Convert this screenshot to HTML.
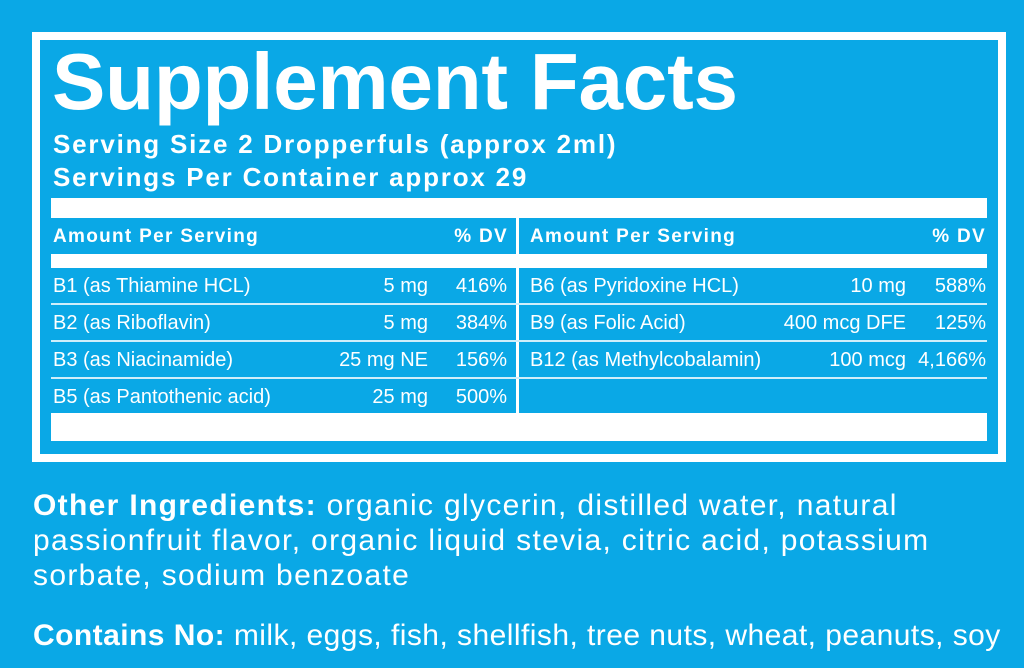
<!DOCTYPE html>
<html><head><meta charset="utf-8"><style>
*{margin:0;padding:0;box-sizing:border-box}
body{width:1024px;height:668px;background:#0aa8e6;position:relative;overflow:hidden;font-family:"Liberation Sans",sans-serif;color:#fff}
.box{position:absolute;left:32px;top:32px;width:974px;height:430px;border:8px solid #fff}
.a{position:absolute;white-space:nowrap}
.title{left:52px;top:36px;font-size:80px;font-weight:bold;letter-spacing:-0.2px}
.sub{left:53px;font-size:26px;font-weight:bold;letter-spacing:1.8px}
.bar{position:absolute;left:51px;width:936px;background:#fff}
.hdr{font-weight:bold;font-size:19px;top:226px;letter-spacing:1.3px}
.r{font-family:"Liberation Sans Narrow","Liberation Sans",sans-serif;font-size:20px;top:0}
.rt{text-align:right}
.line{position:absolute;height:2px;background:#cfeefa}
.bot{left:33px;font-size:30px;letter-spacing:1.33px}
</style></head><body>
<div class="box"></div>
<div class="a title">Supplement Facts</div>
<div class="a sub" style="top:129px">Serving Size 2 Dropperfuls (approx 2ml)</div>
<div class="a sub" style="top:162px">Servings Per Container approx 29</div>
<div class="bar" style="top:198px;height:20px"></div>
<div class="bar" style="top:254px;height:14px"></div>
<div class="bar" style="top:413px;height:28px"></div>
<div style="position:absolute;left:516px;top:218px;width:3px;height:195px;background:#fff"></div>
<div class="line" style="left:51px;width:936px;top:303px"></div>
<div class="line" style="left:51px;width:936px;top:340px"></div>
<div class="line" style="left:51px;width:936px;top:377px"></div>
<div class="a hdr" style="left:53px">Amount Per Serving</div>
<div class="a hdr" style="left:440px;width:68px;text-align:right">% DV</div>
<div class="a hdr" style="left:530px">Amount Per Serving</div>
<div class="a hdr" style="left:910px;width:76px;text-align:right">% DV</div>

<div class="a r" style="left:53px;top:275px">B1 (as Thiamine HCL)</div>
<div class="a r rt" style="left:300px;width:128px;top:275px">5 mg</div>
<div class="a r rt" style="left:440px;width:67px;top:275px">416%</div>
<div class="a r" style="left:53px;top:312px">B2 (as Riboflavin)</div>
<div class="a r rt" style="left:300px;width:128px;top:312px">5 mg</div>
<div class="a r rt" style="left:440px;width:67px;top:312px">384%</div>
<div class="a r" style="left:53px;top:349px">B3 (as Niacinamide)</div>
<div class="a r rt" style="left:300px;width:128px;top:349px">25 mg NE</div>
<div class="a r rt" style="left:440px;width:67px;top:349px">156%</div>
<div class="a r" style="left:53px;top:386px">B5 (as Pantothenic acid)</div>
<div class="a r rt" style="left:300px;width:128px;top:386px">25 mg</div>
<div class="a r rt" style="left:440px;width:67px;top:386px">500%</div>

<div class="a r" style="left:530px;top:275px">B6 (as Pyridoxine HCL)</div>
<div class="a r rt" style="left:740px;width:166px;top:275px">10 mg</div>
<div class="a r rt" style="left:906px;width:80px;top:275px">588%</div>
<div class="a r" style="left:530px;top:312px">B9 (as Folic Acid)</div>
<div class="a r rt" style="left:740px;width:166px;top:312px">400 mcg DFE</div>
<div class="a r rt" style="left:906px;width:80px;top:312px">125%</div>
<div class="a r" style="left:530px;top:349px">B12 (as Methylcobalamin)</div>
<div class="a r rt" style="left:740px;width:166px;top:349px">100 mcg</div>
<div class="a r rt" style="left:906px;width:80px;top:349px">4,166%</div>

<div class="a bot" style="top:489px"><b>Other Ingredients:</b> organic glycerin, distilled water, natural</div>
<div class="a bot" style="top:524px">passionfruit flavor, organic liquid stevia, citric acid, potassium</div>
<div class="a bot" style="top:559px">sorbate, sodium benzoate</div>
<div class="a bot" style="top:619px;letter-spacing:0.45px"><b>Contains No:</b> milk, eggs, fish, shellfish, tree nuts, wheat, peanuts, soy</div>
</body></html>
